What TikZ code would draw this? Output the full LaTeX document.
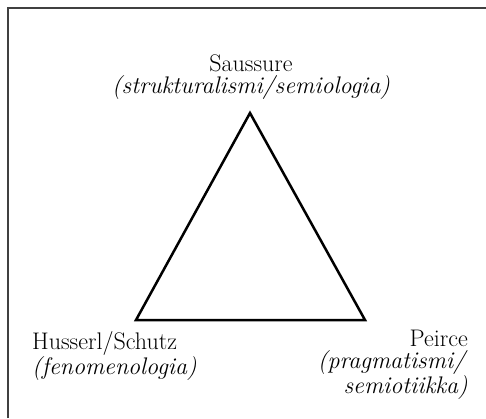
\documentclass[tikz,border=0pt]{standalone}

\tikzset{
    frameline/.style={line width=1.6pt, color=black!75},
    triline/.style={line width=2.5pt, line join=miter},
    school/.style={inner sep=0pt, font=\fontsize{24}{22}\selectfont}
}

\begin{document}
\begin{tikzpicture}[x=1pt, y=-1pt]
    \useasboundingbox (0,0) rectangle (486,418);

    % frame, open at right and bottom
    \draw[frameline] (8,418) -- (8,8) -- (486,8);

    % corners of the triangle
    \coordinate (top) at (250,113);
    \coordinate (left) at (136,320);
    \coordinate (right) at (365,320);
    \draw[triline] (top) -- (left) -- (right) -- cycle;

    \node[school, align=center, anchor=south] (saussure) at (251,100)
        {Saussure\\\textit{(strukturalismi/semiologia)}};
    \node[school, align=left, anchor=north west] (husserl) at (32,331)
        {Husserl/Schutz\\\textit{(fenomenologia)}};
    \node[school, align=right, anchor=north east] (peirce) at (468,330)
        {Peirce\\\textit{(pragmatismi/}\\\textit{semiotiikka)}};

\end{tikzpicture}
\end{document}
